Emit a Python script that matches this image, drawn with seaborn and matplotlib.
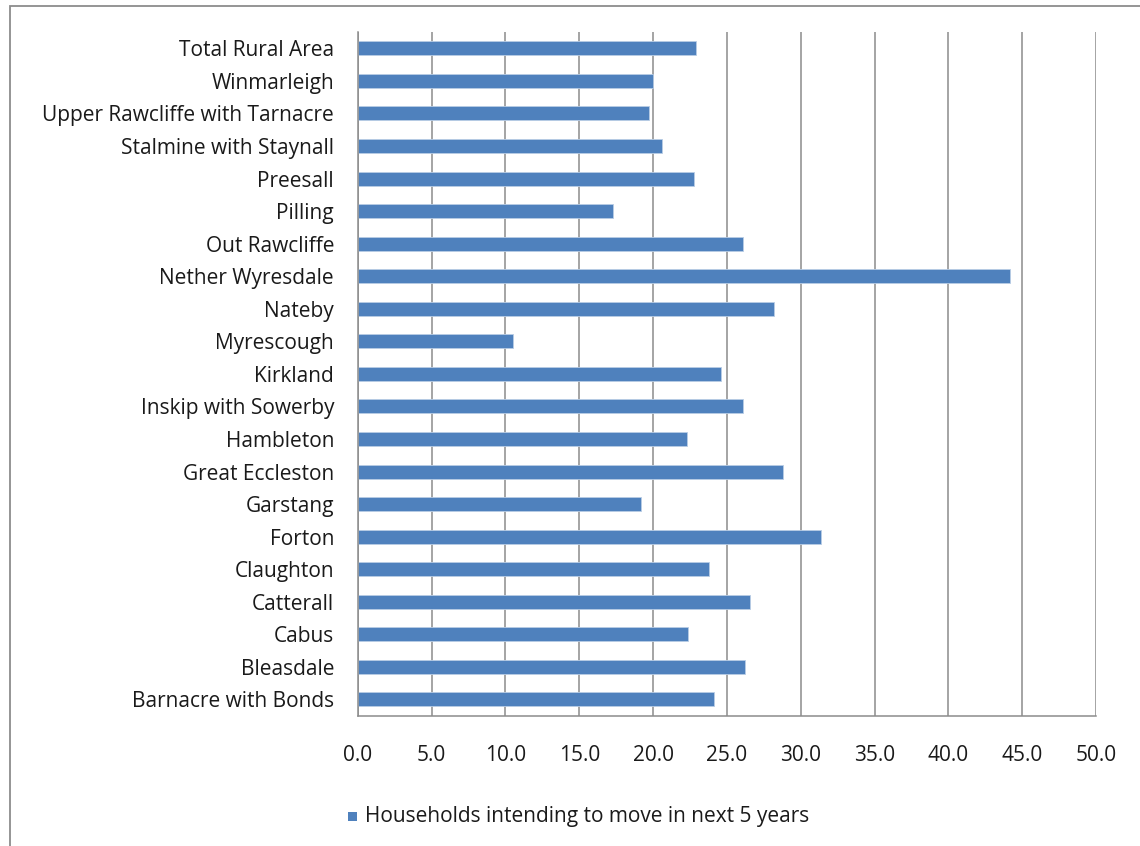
import matplotlib
matplotlib.use("Agg")
import matplotlib.pyplot as plt
import seaborn as sns
import pandas as pd
import numpy as np
from matplotlib.patches import Rectangle
from matplotlib.ticker import FixedLocator

areas = ["Total Rural Area", "Winmarleigh", "Upper Rawcliffe with Tarnacre",
         "Stalmine with Staynall", "Preesall", "Pilling", "Out Rawcliffe",
         "Nether Wyresdale", "Nateby", "Myrescough", "Kirkland",
         "Inskip with Sowerby", "Hambleton", "Great Eccleston", "Garstang",
         "Forton", "Claughton", "Catterall", "Cabus", "Bleasdale",
         "Barnacre with Bonds"]
values = [22.9, 20.0, 19.7, 20.6, 22.8, 17.3, 26.1, 44.2, 28.2, 10.5, 24.6,
          26.1, 22.3, 28.8, 19.2, 31.4, 23.8, 26.6, 22.4, 26.2, 24.1]
xticks = [0, 5, 10, 15, 20, 25, 30, 35, 40, 45, 50]
series_name = "Households intending to move in next 5 years"

df = pd.DataFrame({"area": areas, "value": values})

sns.set_theme(style="white")
plt.rcParams["font.family"] = ["Open Sans", "DejaVu Sans"]

W, H = 1140, 846
fig = plt.figure(figsize=(W / 100, H / 100), dpi=100)
ax = fig.add_axes([357.7 / W, 1 - 715.7 / H, (1096 - 357.7) / W, (715.7 - 32) / H])

color = "#4F81BD"
sns.barplot(data=df, x="value", y="area", orient="h", color=color,
            width=0.43, saturation=1, ax=ax, linewidth=0.6, edgecolor="#B9CDE5")

txt = "#1A1A1A"
ax.set_xlim(0, 50)
ax.set_ylim(len(areas) - 0.5, -0.5)
ax.set_xticks(xticks)
ax.set_xticklabels([f"{t:.1f}" for t in xticks], fontsize=15, color=txt)
ax.tick_params(axis="x", length=8, width=1, color="#888888", pad=13, direction="out")
ax.xaxis.grid(True, color="#8C8C8C", linewidth=1.1)
ax.set_axisbelow(True)

ax.yaxis.set_major_locator(FixedLocator(np.arange(len(areas))))
ax.set_yticklabels(areas, fontsize=15, color=txt)
ax.yaxis.set_minor_locator(FixedLocator(np.arange(len(areas) + 1) - 0.5))
ax.tick_params(axis="y", which="major", length=0, pad=17)
ax.tick_params(axis="y", which="minor", length=7, width=1, color="#888888", direction="out")
ax.set_xlabel("")
ax.set_ylabel("")

for s in ["top", "right"]:
    ax.spines[s].set_visible(False)
for s in ["left", "bottom"]:
    ax.spines[s].set_color("#8C8C8C")
    ax.spines[s].set_linewidth(1.1)

# outer chart frame
fig.patches.append(Rectangle((10 / W, -0.1), 1.2, 1 - 6.5 / H + 0.1,
                             transform=fig.transFigure, fill=False,
                             edgecolor="#8C8C8C", linewidth=1.3))

# legend
fig.patches.append(Rectangle((348 / W, 1 - 821 / H), 9 / W, 9 / H,
                             transform=fig.transFigure, facecolor=color,
                             edgecolor="none"))
fig.text(365 / W, 1 - 816.5 / H, series_name, fontsize=15, color=txt,
         va="center", ha="left")

fig.savefig("out.png", dpi=100)
